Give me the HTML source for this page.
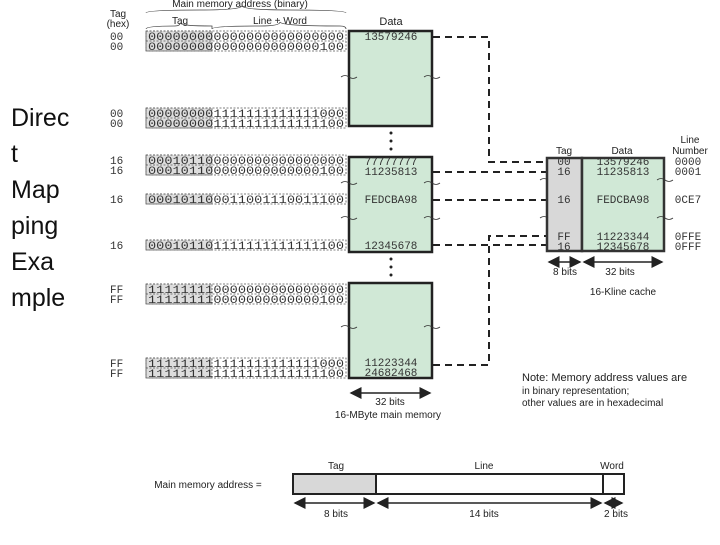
<!DOCTYPE html>
<html><head><meta charset="utf-8"><style>
body{margin:0;background:#fff;width:720px;height:540px;overflow:hidden}
.t{font-family:"Liberation Sans",sans-serif;fill:#222}
.m{font-family:"Liberation Mono",monospace;fill:#333}
</style></head><body>
<svg width="720" height="540" viewBox="0 0 720 540" xmlns="http://www.w3.org/2000/svg">
<defs><marker id="a" markerWidth="8" markerHeight="8" refX="7" refY="4" orient="auto-start-reverse"><path d="M0,0 L8,4 L0,8 z" fill="#222"/></marker></defs>
<g font-family="Liberation Sans,sans-serif" font-size="25" fill="#111">
<text x="11" y="126">Direc</text><text x="11" y="162">t</text><text x="11" y="198">Map</text><text x="11" y="234">ping</text><text x="11" y="270">Exa</text><text x="11" y="306">mple</text>
</g>
<g class="t" font-size="10" text-anchor="middle">
<text x="118" y="17">Tag</text><text x="118" y="27">(hex)</text>
<text x="240" y="7">Main memory address (binary)</text>
<text x="180" y="24">Tag</text><text x="280" y="24">Line + Word</text>
<text x="391" y="25" font-size="11">Data</text>
</g>
<path d="M146,13 Q146,10 200,10 Q240,10 242,6 Q244,10 290,10 Q346,10 346,13" fill="none" stroke="#444" stroke-width="0.8"/>
<path d="M146,29 Q146,26 175,26 Q180,26 180,23 Q181,26 212,26 Q212,29 212,29 M212,29 Q212,26 260,26 Q280,26 280,22 Q281,26 340,26 Q346,26 346,29" fill="none" stroke="#444" stroke-width="0.8"/>
<g id="rows">
<g font-size="11">
<!-- rows -->
</g>
</g>
<g stroke="#555" stroke-dasharray="2,1.5" stroke-width="0.8">
<rect x="146" y="31" width="66" height="20" fill="#ddd"/><rect x="146" y="31" width="200" height="20" fill="none"/><line x1="146" y1="41" x2="346" y2="41"/>
<rect x="146" y="108" width="66" height="20" fill="#ddd"/><rect x="146" y="108" width="200" height="20" fill="none"/><line x1="146" y1="118" x2="346" y2="118"/>
<rect x="146" y="155" width="66" height="20" fill="#ddd"/><rect x="146" y="155" width="200" height="20" fill="none"/><line x1="146" y1="165" x2="346" y2="165"/>
<rect x="146" y="194" width="66" height="10" fill="#ddd"/><rect x="146" y="194" width="200" height="10" fill="none"/>
<rect x="146" y="240" width="66" height="10" fill="#ddd"/><rect x="146" y="240" width="200" height="10" fill="none"/>
<rect x="146" y="284" width="66" height="20" fill="#ddd"/><rect x="146" y="284" width="200" height="20" fill="none"/><line x1="146" y1="294" x2="346" y2="294"/>
<rect x="146" y="358" width="66" height="20" fill="#ddd"/><rect x="146" y="358" width="200" height="20" fill="none"/><line x1="146" y1="368" x2="346" y2="368"/>
</g>
<g class="m" font-size="11">
<text x="110" y="40">00</text><text x="110" y="50">00</text>
<text x="110" y="117">00</text><text x="110" y="127">00</text>
<text x="110" y="164">16</text><text x="110" y="174">16</text>
<text x="110" y="203">16</text><text x="110" y="249">16</text>
<text x="110" y="293">FF</text><text x="110" y="303">FF</text>
<text x="110" y="367">FF</text><text x="110" y="377">FF</text>
</g>
<g class="m" font-size="11">
<text x="148" y="40" textLength="196" lengthAdjust="spacingAndGlyphs">000000000000000000000000</text>
<text x="148" y="50" textLength="196" lengthAdjust="spacingAndGlyphs">000000000000000000000100</text>
<text x="148" y="117" textLength="196" lengthAdjust="spacingAndGlyphs">000000001111111111111000</text>
<text x="148" y="127" textLength="196" lengthAdjust="spacingAndGlyphs">000000001111111111111100</text>
<text x="148" y="164" textLength="196" lengthAdjust="spacingAndGlyphs">000101100000000000000000</text>
<text x="148" y="174" textLength="196" lengthAdjust="spacingAndGlyphs">000101100000000000000100</text>
<text x="148" y="203" textLength="196" lengthAdjust="spacingAndGlyphs">000101100011001110011100</text>
<text x="148" y="249" textLength="196" lengthAdjust="spacingAndGlyphs">000101101111111111111100</text>
<text x="148" y="293" textLength="196" lengthAdjust="spacingAndGlyphs">111111110000000000000000</text>
<text x="148" y="303" textLength="196" lengthAdjust="spacingAndGlyphs">111111110000000000000100</text>
<text x="148" y="367" textLength="196" lengthAdjust="spacingAndGlyphs">111111111111111111111000</text>
<text x="148" y="377" textLength="196" lengthAdjust="spacingAndGlyphs">111111111111111111111100</text>
</g>
<g fill="#d0e8d6" stroke="#222" stroke-width="2.5">
<rect x="349" y="31" width="83" height="95"/>
<rect x="349" y="157" width="83" height="95"/>
<rect x="349" y="283" width="83" height="95"/>
</g>
<g fill="#222"><circle cx="391" cy="133" r="1.5"/><circle cx="391" cy="141" r="1.5"/><circle cx="391" cy="149" r="1.5"/>
<circle cx="391" cy="259" r="1.5"/><circle cx="391" cy="267" r="1.5"/><circle cx="391" cy="275" r="1.5"/></g>
<g fill="none" stroke="#333" stroke-width="0.8">
<path d="M341,77 q4,-3 8,0 q4,3 8,0"/><path d="M424,77 q4,-3 8,0 q4,3 8,0"/>
<path d="M341,183 q4,-3 8,0 q4,3 8,0"/><path d="M424,183 q4,-3 8,0 q4,3 8,0"/>
<path d="M341,218 q4,-3 8,0 q4,3 8,0"/><path d="M424,218 q4,-3 8,0 q4,3 8,0"/>
<path d="M341,327 q4,-3 8,0 q4,3 8,0"/><path d="M424,327 q4,-3 8,0 q4,3 8,0"/>
</g>
<g class="m" font-size="11" text-anchor="middle">
<text x="391" y="40">13579246</text>
<text x="391" y="165">77777777</text><text x="391" y="175">11235813</text>
<text x="391" y="203">FEDCBA98</text><text x="391" y="249">12345678</text>
<text x="391" y="366">11223344</text><text x="391" y="376">24682468</text>
</g>
<g stroke="#222" stroke-width="2" stroke-dasharray="7,5" fill="none">
<path d="M433,37 H489 V162 H547"/>
<path d="M433,172 H547"/><path d="M433,200 H547"/><path d="M433,245 H547"/>
<path d="M433,365 H489 V236 H547"/>
</g>
<rect x="547" y="158" width="35" height="93" fill="#d8d8d8" stroke="#333" stroke-width="2.5"/>
<rect x="582" y="158" width="82" height="93" fill="#d0e8d6" stroke="#333" stroke-width="2.5"/>
<g fill="none" stroke="#333" stroke-width="0.8">
<path d="M540,180 q4,-3 8,0"/><path d="M540,218 q4,-3 8,0"/><path d="M657,180 q4,-3 8,0 q4,3 8,0"/><path d="M657,218 q4,-3 8,0 q4,3 8,0"/>
</g>
<g class="m" font-size="11" text-anchor="middle">
<text x="564" y="165">00</text><text x="564" y="175">16</text><text x="564" y="203">16</text><text x="564" y="240">FF</text><text x="564" y="250">16</text>
<text x="623" y="165">13579246</text><text x="623" y="175">11235813</text><text x="623" y="203">FEDCBA98</text><text x="623" y="240">11223344</text><text x="623" y="250">12345678</text>
<text x="688" y="165">0000</text><text x="688" y="175">0001</text><text x="688" y="203">0CE7</text><text x="688" y="240">0FFE</text><text x="688" y="250">0FFF</text>
</g>
<g class="t" font-size="10" text-anchor="middle">
<text x="564" y="154">Tag</text><text x="622" y="154">Data</text>
<text x="690" y="143">Line</text><text x="690" y="154">Number</text>
<text x="565" y="275">8 bits</text><text x="620" y="275">32 bits</text>
<text x="623" y="295">16-Kline cache</text>
<text x="390" y="405">32 bits</text><text x="388" y="418">16-MByte main memory</text>
</g>
<g stroke="#222" stroke-width="1.5">
<line x1="549" y1="262" x2="580" y2="262" marker-start="url(#a)" marker-end="url(#a)"/>
<line x1="584" y1="262" x2="662" y2="262" marker-start="url(#a)" marker-end="url(#a)"/>
<line x1="351" y1="393" x2="430" y2="393" marker-start="url(#a)" marker-end="url(#a)"/>
</g>
<g class="t" font-size="11">
<text x="522" y="381">Note: Memory address values are</text>
<text x="522" y="394" font-size="10">in binary representation;</text>
<text x="522" y="406" font-size="10">other values are in hexadecimal</text>
</g>
<rect x="293" y="474" width="83" height="20" fill="#d8d8d8" stroke="#222" stroke-width="2"/>
<rect x="376" y="474" width="227" height="20" fill="#fff" stroke="#222" stroke-width="2"/>
<rect x="603" y="474" width="21" height="20" fill="#fff" stroke="#222" stroke-width="2"/>
<g stroke="#222" stroke-width="1.5">
<line x1="295" y1="503" x2="374" y2="503" marker-start="url(#a)" marker-end="url(#a)"/>
<line x1="378" y1="503" x2="601" y2="503" marker-start="url(#a)" marker-end="url(#a)"/>
<line x1="605" y1="503" x2="622" y2="503" marker-start="url(#a)" marker-end="url(#a)"/>
</g>
<g class="t" font-size="10" text-anchor="middle">
<text x="336" y="469">Tag</text><text x="484" y="469">Line</text><text x="612" y="469">Word</text>
<text x="336" y="517">8 bits</text><text x="484" y="517">14 bits</text><text x="616" y="517">2 bits</text>
<text x="208" y="488">Main memory address =</text>
</g>
</svg>
</body></html>
